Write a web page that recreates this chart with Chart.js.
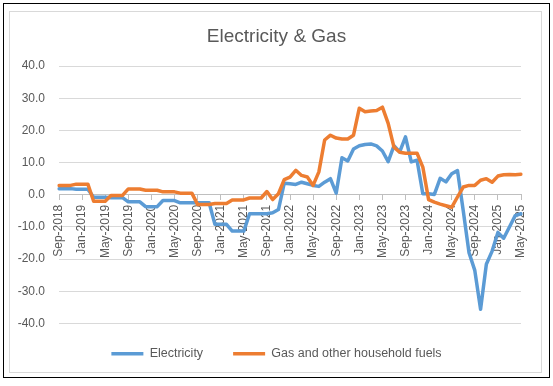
<!DOCTYPE html>
<html><head><meta charset="utf-8">
<script src="https://cdn.jsdelivr.net/npm/chart.js@4.4.1/dist/chart.umd.min.js"></script>
<style>html,body{margin:0;padding:0;background:#fff;}canvas{display:block;}</style>
</head><body>
<canvas id="c" width="553" height="386"></canvas>
<script>
const categories = [
 'Sep-2018','Oct-2018','Nov-2018','Dec-2018',
 'Jan-2019','Feb-2019','Mar-2019','Apr-2019','May-2019','Jun-2019','Jul-2019','Aug-2019','Sep-2019','Oct-2019','Nov-2019','Dec-2019',
 'Jan-2020','Feb-2020','Mar-2020','Apr-2020','May-2020','Jun-2020','Jul-2020','Aug-2020','Sep-2020','Oct-2020','Nov-2020','Dec-2020',
 'Jan-2021','Feb-2021','Mar-2021','Apr-2021','May-2021','Jun-2021','Jul-2021','Aug-2021','Sep-2021','Oct-2021','Nov-2021','Dec-2021',
 'Jan-2022','Feb-2022','Mar-2022','Apr-2022','May-2022','Jun-2022','Jul-2022','Aug-2022','Sep-2022','Oct-2022','Nov-2022','Dec-2022',
 'Jan-2023','Feb-2023','Mar-2023','Apr-2023','May-2023','Jun-2023','Jul-2023','Aug-2023','Sep-2023','Oct-2023','Nov-2023','Dec-2023',
 'Jan-2024','Feb-2024','Mar-2024','Apr-2024','May-2024','Jun-2024','Jul-2024','Aug-2024','Sep-2024','Oct-2024','Nov-2024','Dec-2024',
 'Jan-2025','Feb-2025','Mar-2025','Apr-2025','May-2025'
];
const electricity = [
 1.9,1.9,1.9,1.7,1.7,1.7,-0.8,-0.8,-0.8,-0.9,-0.9,-0.9,
 -2.2,-2.2,-2.2,-3.7,-3.7,-3.7,-1.8,-1.8,-1.8,-2.5,-2.5,-2.5,
 -2.5,-2.5,-2.5,-9.2,-9.2,-9.2,-11.3,-11.3,-11.3,-5.9,-5.9,-5.9,
 -5.9,-5.6,-4.6,3.6,3.4,3.2,3.9,3.4,2.9,2.6,3.9,5.0,
 0.5,11.5,10.5,14.2,15.2,15.6,15.8,15.2,13.6,10.3,15.2,13.3,
 18.0,10.2,10.7,0.3,0.3,0.1,5.1,4.0,6.5,7.5,-5.0,-18.0,
 -23.5,-35.6,-21.6,-17.5,-11.7,-13.5,-10.0,-6.5,-5.9
];
const gas = [
 2.9,2.9,2.9,3.3,3.3,3.3,-2.0,-2.0,-2.0,-0.2,-0.2,-0.2,
 1.8,1.8,1.8,1.4,1.4,1.4,0.9,0.9,0.9,0.5,0.5,0.5,
 -3.0,-3.0,-3.0,-2.7,-2.7,-2.7,-1.6,-1.6,-1.6,-1.0,-1.0,-1.0,
 1.0,-1.5,0.3,4.7,5.5,7.6,6.0,5.5,2.9,7.1,17.0,18.5,
 17.6,17.3,17.3,18.5,26.9,25.8,26.0,26.2,27.2,22.2,14.8,13.2,
 12.9,12.9,12.9,8.6,-1.5,-2.3,-2.9,-3.4,-3.9,-0.7,2.4,2.9,
 2.9,4.5,5.0,3.9,5.8,6.2,6.3,6.2,6.4
];
const seriesNames = ['Electricity','Gas and other household fuels'];
const yMin = -40, yMax = 40, yStep = 10;
const labelEvery = 4;

const FONT = '"Liberation Sans", Arial, sans-serif';
const TXT = '#595959';

const framePlugin = {
  id: 'frame',
  beforeDraw(chart) {
    const ctx = chart.ctx;
    ctx.save();
    ctx.fillStyle = '#fff';
    ctx.fillRect(0, 0, chart.width, chart.height);
    ctx.lineWidth = 1;
    ctx.strokeStyle = '#d9d9d9';
    ctx.strokeRect(9.5, 11.5, 532, 361);
    ctx.strokeStyle = '#000';
    ctx.strokeRect(3.5, 3.5, 546, 374);
    ctx.restore();
  }
};
const legendShift = {
  id: 'legendShift',
  afterLayout(chart) {
    const lg = chart.legend;
    if (lg) { lg.top -= 6; lg.bottom -= 6; }
  }
};

new Chart(document.getElementById('c'), {
  type: 'line',
  data: {
    labels: categories,
    datasets: [
      { label: seriesNames[0], data: electricity, borderColor: '#5B9BD5', backgroundColor: '#5B9BD5', order: 1 },
      { label: seriesNames[1], data: gas, borderColor: '#ED7D31', backgroundColor: '#ED7D31', order: 0 }
    ]
  },
  options: {
    responsive: false,
    animation: false,
    devicePixelRatio: 1,
    layout: { padding: { left: 16, right: 16, top: 10, bottom: 10 } },
    elements: {
      line: { borderWidth: 3.5, tension: 0, borderJoinStyle: 'round', borderCapStyle: 'round' },
      point: { radius: 0, hoverRadius: 0, borderWidth: 3.5 }
    },
    plugins: {
      tooltip: { enabled: false },
      title: {
        display: true, text: 'Electricity & Gas', color: TXT,
        font: { family: FONT, size: 19, weight: 'normal' },
        padding: { top: 15.6, bottom: 17.6 }
      },
      legend: {
        position: 'bottom', maxHeight: 64,
        labels: {
          color: TXT, font: { family: FONT, size: 12.5 },
          usePointStyle: true, pointStyle: 'line', pointStyleWidth: 32,
          padding: 30,
          sort: (a, b) => a.datasetIndex - b.datasetIndex
        }
      }
    },
    scales: {
      x: {
        position: { y: 0 },
        offset: false,
        afterFit: (s) => { s.height = 0; },
        grid: {
          display: true, drawOnChartArea: false, drawTicks: true, tickLength: 5,
          tickColor: (c) => (c.index % labelEvery === 0 ? '#bfbfbf' : 'rgba(0,0,0,0)')
        },
        border: { display: true, color: '#bfbfbf' },
        ticks: {
          autoSkip: false, maxRotation: 90, minRotation: 90, padding: 5,
          color: TXT, font: { family: FONT, size: 12 },
          callback: function (v, i) { return i % labelEvery === 0 ? this.getLabelForValue(v) : ''; }
        }
      },
      y: {
        min: yMin, max: yMax,
        afterFit: (s) => { s.width = 43; },
        grid: { color: '#d9d9d9', drawTicks: false },
        border: { display: false },
        ticks: {
          stepSize: yStep, padding: 14, color: TXT,
          font: { family: FONT, size: 12 },
          callback: (v) => Number(v).toFixed(1)
        }
      },
      yRight: {
        position: 'right', display: true,
        afterFit: (s) => { s.width = 16; },
        grid: { display: false, drawTicks: false },
        border: { display: false },
        ticks: { display: false }
      }
    }
  },
  plugins: [framePlugin, legendShift]
});
</script>
</body></html>
